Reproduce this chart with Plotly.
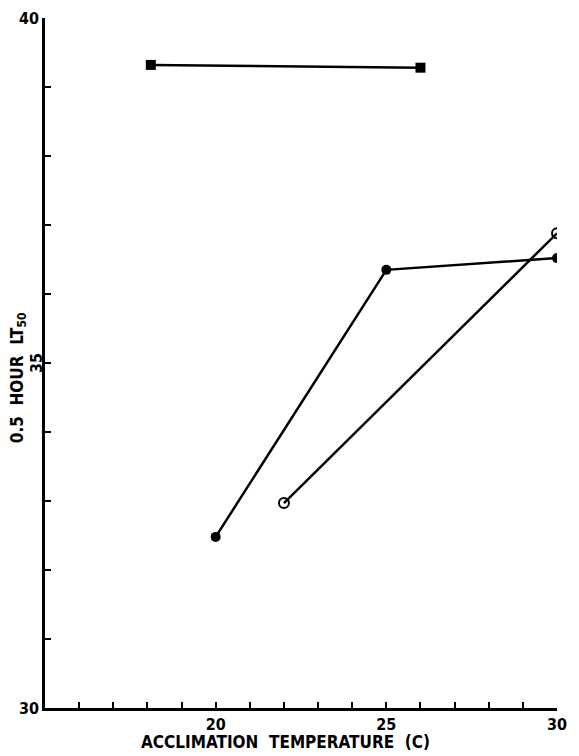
import plotly.graph_objects as go

# Data
sq_x = [18.1, 26.0]
sq_y = [39.32, 39.28]

filled_x = [20, 25, 30]
filled_y = [32.48, 36.35, 36.52]

open_x = [22, 30]
open_y = [32.97, 36.88]

x_tickvals = list(range(15, 31))
x_ticktext = ["20" if v == 20 else "25" if v == 25 else "30" if v == 30 else "" for v in x_tickvals]
y_tickvals = list(range(30, 41))
y_ticktext = ["30" if v == 30 else "40" if v == 40 else "" for v in y_tickvals]
y_rotated_label = 35

x_title = "ACCLIMATION  TEMPERATURE  (C)"
y_title = "0.5  HOUR  LT<sub>50</sub>"

FONT = "DejaVu Sans Condensed, Liberation Sans Narrow, sans-serif"

fig = go.Figure()
fig.add_trace(go.Scatter(x=sq_x, y=sq_y, mode="lines+markers",
                         line=dict(color="black", width=2.5),
                         marker=dict(symbol="square", size=10, color="black")))
fig.add_trace(go.Scatter(x=filled_x, y=filled_y, mode="lines+markers",
                         line=dict(color="black", width=2.5),
                         marker=dict(symbol="circle", size=10, color="black")))
fig.add_trace(go.Scatter(x=open_x, y=open_y, mode="lines+markers",
                         line=dict(color="black", width=2.5),
                         marker=dict(symbol="circle-open", size=10, color="black",
                                     line=dict(width=2))))

# page body has an 8px margin; size/margins compensate so the plot area
# lands at x 45..557, y 18..708 in the window
fig.update_layout(
    width=563, height=748,
    margin=dict(l=37, r=14, t=10, b=48),
    paper_bgcolor="white", plot_bgcolor="white",
    showlegend=False,
    font=dict(family=FONT, color="black", size=15),
    xaxis=dict(range=[15, 30], tickvals=x_tickvals, ticktext=x_ticktext,
               automargin=False,
               ticks="inside", ticklen=6, tickwidth=2, tickcolor="black",
               showline=True, linecolor="black", linewidth=2.5,
               showgrid=False, zeroline=False,
               tickfont=dict(family=FONT, size=16, weight="bold")),
    yaxis=dict(range=[30, 40], tickvals=y_tickvals, ticktext=y_ticktext,
               automargin=False,
               ticks="inside", ticklen=6, tickwidth=2, tickcolor="black",
               showline=True, linecolor="black", linewidth=2.5,
               showgrid=False, zeroline=False,
               tickfont=dict(family=FONT, size=16, weight="bold")),
    annotations=[
        dict(text=x_title, xref="paper", yref="paper", x=0.469, y=0,
             xanchor="center", yanchor="middle", yshift=-34, showarrow=False,
             font=dict(family=FONT, size=17, weight="bold", color="black")),
        dict(text=y_title, xref="paper", yref="paper", x=0, y=0.478,
             xanchor="center", yanchor="middle", xshift=-27, textangle=-90,
             showarrow=False,
             font=dict(family=FONT, size=17, weight="bold", color="black")),
        dict(text=str(y_rotated_label), xref="paper", yref="y", x=0, y=y_rotated_label,
             xanchor="center", yanchor="middle", xshift=-9, textangle=-90,
             showarrow=False,
             font=dict(family=FONT, size=16, weight="bold", color="black")),
    ],
)

fig.write_html("out.html")
